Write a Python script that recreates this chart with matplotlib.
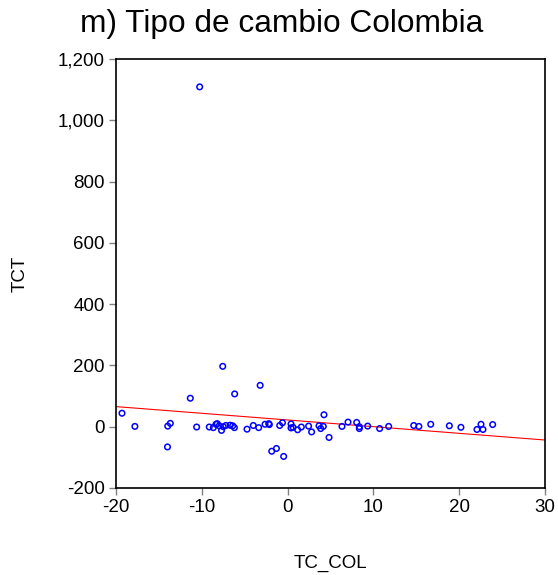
import matplotlib
matplotlib.use("Agg")
import matplotlib.pyplot as plt
import numpy as np

# ── Data ───────────────────────────────────────────────────────────────────────

tc_col = [
    -19.3, -17.8, -13.97, -13.67, -14.0, -11.34, -10.6, -10.25, -7.56, -6.17,
    -3.2, -9.13, -8.66, -8.35, -8.2, -7.97, -7.7, -7.5, -7.2, -6.7,
    -6.4, -6.2, -4.73, -4.0, -3.37, -2.63, -2.2, -2.13, -1.85, -1.3,
    -0.92, -0.6, -0.46, 0.4, 0.4, 0.63, 1.17, 1.6, 2.45, 2.8,
    3.66, 3.86, 4.16, 4.24, 4.83, 6.34, 7.04, 8.05, 8.36, 8.36,
    9.33, 10.73, 11.78, 14.7, 15.3, 16.68, 18.85, 20.2, 22.07, 22.54,
    22.77, 23.9,
]
tct = [
    44, 1, 2, 11, -66, 93, -1, 1109, 197, 107,
    135, -1, -3, 8, 10, 3, -12, 0, 4, 5,
    3, -3, -8, 4, -3, 8, 10, 7, -80, -71,
    4, 13, -97, 9, -4, -2, -10, -1, 2, -17,
    3, -6, 1, 39, -35, 1, 15, 14, 0, -6,
    2, -6, 1, 4, 1, 8, 3, -2, -9, 8,
    -9, 7,
]

# fitted line as drawn in the reference
fit_intercept = 22.0
fit_slope = -2.18

x_ticks = [-20, -10, 0, 10, 20, 30]
y_ticks = [-200, 0, 200, 400, 600, 800, 1000, 1200]

# ── Chart ──────────────────────────────────────────────────────────────────────

plt.rcParams["font.family"] = ["Liberation Sans", "DejaVu Sans"]
plt.rcParams["axes.unicode_minus"] = False   # plain hyphen like the original

fig = plt.figure(figsize=(5.58, 5.75), dpi=100)
ax = fig.add_axes([116 / 558, 1 - 488 / 575, 429 / 558, 429 / 575])

ax.scatter(tc_col, tct, s=16, facecolors="none", edgecolors="#0000ff",
           linewidths=1.1, zorder=3)

xl = np.array([-20, 30])
ax.plot(xl, fit_intercept + fit_slope * xl, color="#ff0000", linewidth=0.8,
        zorder=2)

ax.set_xlim(-20, 30)
ax.set_ylim(-200, 1200)
ax.set_xticks(x_ticks)
ax.set_yticks(y_ticks)
ax.yaxis.set_major_formatter(plt.FuncFormatter(lambda v, _: f"{v:,.0f}"))
ax.tick_params(direction="out", length=5, width=1, color="#808080",
               labelsize=13.5, pad=3)

for s in ax.spines.values():
    s.set_linewidth(1.2)
    s.set_color("black")

ax.set_xlabel("TC_COL", fontsize=13.5, labelpad=28)
ax.set_ylabel("TCT", fontsize=13.5, labelpad=21)
fig.text(0.505, 0.958, "m) Tipo de cambio Colombia", fontsize=22.8,
         ha="center", va="center")

fig.savefig("out.png", dpi=100)
